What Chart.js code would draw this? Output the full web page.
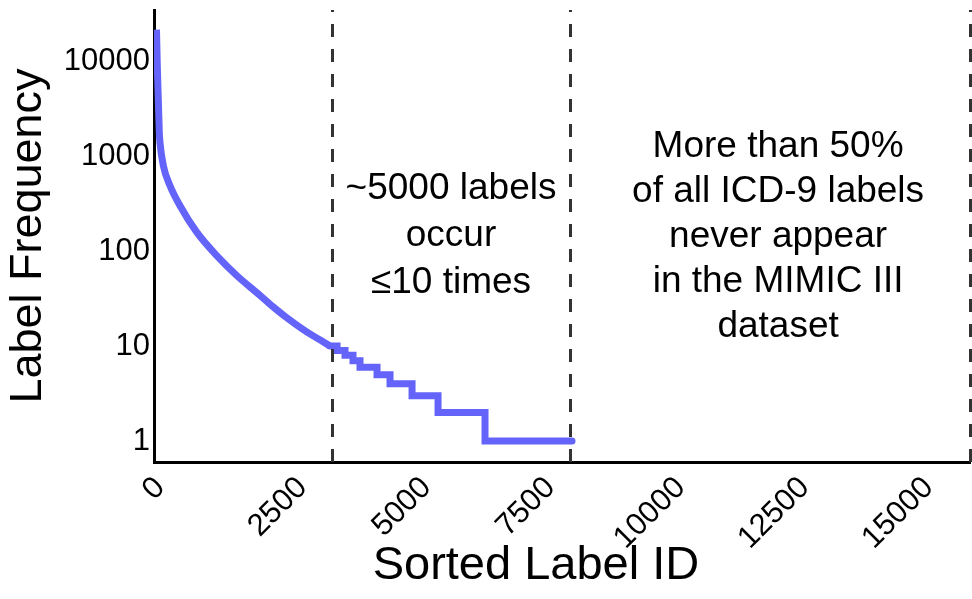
<!DOCTYPE html>
<html>
<head>
<meta charset="utf-8">
<title>Label Frequency</title>
<script src="https://cdn.jsdelivr.net/npm/chart.js@4.4.0/dist/chart.umd.min.js"></script>
<style>
  html, body { margin: 0; padding: 0; background: #fff; }
  canvas { display: block; }
</style>
</head>
<body>
<canvas id="freqChart" width="972" height="599"></canvas>
<script>
// Sorted label frequencies

// Head of the distribution (smooth part, above 10 occurrences)
const headIds  = [50, 67, 87, 107, 121, 188, 323, 524, 861, 1264, 1667, 2137, 2400, 2650, 2944, 3200, 3400, 3548];
const headFreq = [21700, 8900, 3970, 1780, 1390, 800, 490, 302, 159, 90, 55.6, 34.3, 26, 20.4, 15.8, 12.9, 11.2, 10];

// Tail: each point is the label ID where a new integer count starts
const tailIds  = [3548, 3690, 3851, 4012, 4153, 4496, 4758, 5202, 5726, 6673, 8427];
const tailFreq = [10, 9, 8, 7, 6, 5, 4, 3, 2, 1, 1];

const xTicks = [0, 2500, 5000, 7500, 10000, 12500, 15000];
const yTicks = [1, 10, 100, 1000, 10000];

// Dashed region boundaries
const cutIds = [3589, 8387, 16440];

// Region notes (centre of each text block, in data units)
const noteIds  = [5988, 12581];
const noteFreq = [145, 142];
const noteStep = [47, 45];
const noteText = [
    ['~5000 labels', 'occur', '\u226410 times'],
    ['More than 50%', 'of all ICD-9 labels', 'never appear', 'in the MIMIC III', 'dataset']
];

const FONT = '"Liberation Sans", Arial, Helvetica, sans-serif';
const CURVE = '#6464fa';

// Dashed boundaries, notes, x tick labels (centred on the tick, rotated) and x caption
const overlays = {
    id: 'overlays',
    afterDatasetsDraw(chart) {
        const { ctx, chartArea, scales: { x, y } } = chart;
        ctx.save();

        ctx.strokeStyle = '#333';
        ctx.lineWidth = 3;
        ctx.setLineDash([13, 12]);
        cutIds.forEach(id => {
            const px = Math.round(x.getPixelForValue(id)) + 0.5;
            ctx.beginPath();
            ctx.moveTo(px, chartArea.bottom);
            ctx.lineTo(px, chartArea.top);
            ctx.stroke();
        });
        ctx.setLineDash([]);

        ctx.fillStyle = '#000';
        ctx.textAlign = 'center';
        ctx.textBaseline = 'middle';
        ctx.font = '37px ' + FONT;
        noteText.forEach((lines, i) => {
            const cx = x.getPixelForValue(noteIds[i]);
            const cy = y.getPixelForValue(noteFreq[i]);
            const top = cy - (lines.length - 1) * noteStep[i] / 2;
            lines.forEach((t, j) => ctx.fillText(t, cx, top + j * noteStep[i]));
        });

        // tick labels: rotated 45deg, centred under the tick, tops aligned
        ctx.font = '31px ' + FONT;
        const labelTop = chartArea.bottom + 13;
        x.ticks.forEach(tick => {
            const t = String(tick.value);
            const len = ctx.measureText(t).width;
            const ext = (len + 22) * Math.SQRT1_2;
            ctx.save();
            ctx.translate(x.getPixelForValue(tick.value), labelTop + ext / 2);
            ctx.rotate(-Math.PI / 4);
            ctx.fillText(t, 0, 0);
            ctx.restore();
        });

        // x axis caption sits a bit left of the plot centre in the reference
        ctx.font = '47px ' + FONT;
        ctx.fillText('Sorted Label ID', x.getPixelForValue(7700), chart.height - 33);

        ctx.restore();
    }
};

new Chart(document.getElementById('freqChart'), {
    type: 'line',
    data: {
        datasets: [
            {
                data: headIds.map((v, i) => ({ x: v, y: headFreq[i] })),
                borderColor: CURVE,
                borderWidth: 7,
                pointRadius: 0,
                cubicInterpolationMode: 'monotone',
                fill: false
            },
            {
                data: tailIds.map((v, i) => ({ x: v, y: tailFreq[i] })),
                borderColor: CURVE,
                borderWidth: 7,
                pointRadius: 0,
                stepped: 'before',
                borderJoinStyle: 'miter',
                borderCapStyle: 'round',
                fill: false
            }
        ]
    },
    options: {
        responsive: false,
        animation: false,
        layout: {
            padding: { top: 10, right: 2, left: 0, bottom: 0 }
        },
        plugins: {
            legend: { display: false },
            tooltip: { enabled: false }
        },
        scales: {
            x: {
                type: 'linear',
                min: 0,
                max: 16450,
                afterFit: scale => {
                    scale.height = 137;
                    scale.paddingLeft = 0;
                    scale.paddingRight = 0;
                },
                afterBuildTicks: scale => { scale.ticks = xTicks.map(v => ({ value: v })); },
                grid: { display: false, drawTicks: false },
                border: { display: true, color: '#000', width: 3 },
                ticks: { display: false }
            },
            y: {
                type: 'logarithmic',
                min: 0.632,
                max: 35000,
                afterFit: scale => {
                    scale.width = 154;
                    scale.paddingTop = 0;
                    scale.paddingBottom = 0;
                },
                afterBuildTicks: scale => { scale.ticks = yTicks.map(v => ({ value: v })); },
                grid: { display: false, drawTicks: false },
                border: { display: true, color: '#000', width: 3 },
                ticks: {
                    padding: 4,
                    color: '#000',
                    font: { family: FONT, size: 31 },
                    callback: v => String(v)
                },
                title: {
                    display: true,
                    text: 'Label Frequency',
                    color: '#000',
                    padding: { top: 2, bottom: 0 },
                    font: { family: FONT, size: 45 }
                }
            }
        }
    },
    plugins: [overlays]
});
</script>
</body>
</html>
